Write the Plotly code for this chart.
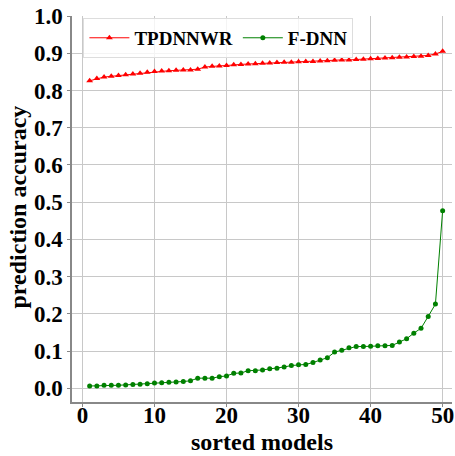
import plotly.graph_objects as go

models = list(range(1, 51))
tpdnnwr = [0.826, 0.832, 0.836, 0.838, 0.840, 0.842, 0.844, 0.846, 0.849, 0.851,
           0.852, 0.853, 0.854, 0.855, 0.855, 0.857, 0.863, 0.865, 0.866, 0.867,
           0.869, 0.870, 0.871, 0.872, 0.873, 0.874, 0.875, 0.876, 0.876, 0.877,
           0.878, 0.878, 0.879, 0.880, 0.881, 0.882, 0.882, 0.883, 0.884, 0.885,
           0.886, 0.887, 0.888, 0.889, 0.890, 0.891, 0.892, 0.894, 0.898, 0.905]
fdnn = [0.006, 0.006, 0.008, 0.008, 0.008, 0.009, 0.010, 0.011, 0.012, 0.014,
        0.015, 0.016, 0.017, 0.018, 0.020, 0.027, 0.027, 0.027, 0.031, 0.033,
        0.040, 0.041, 0.047, 0.047, 0.049, 0.052, 0.054, 0.057, 0.061, 0.063,
        0.064, 0.069, 0.076, 0.082, 0.097, 0.102, 0.109, 0.112, 0.112, 0.113,
        0.114, 0.114, 0.115, 0.124, 0.133, 0.148, 0.161, 0.193, 0.226, 0.477]
xticks = [0, 10, 20, 30, 40, 50]
yticks = [0.0, 0.1, 0.2, 0.3, 0.4, 0.5, 0.6, 0.7, 0.8, 0.9, 1.0]
x_title = "sorted models"
y_title = "prediction accuracy"

tickfont = dict(family="Liberation Serif", size=23, color="black", weight="bold")
titlefont = dict(family="Liberation Serif", size=24, color="black", weight="bold")

fig = go.Figure()
fig.add_trace(go.Scatter(x=models, y=tpdnnwr, mode="lines+markers", name="TPDNNWR",
                         line=dict(color="red", width=1),
                         marker=dict(symbol="triangle-up", size=6, color="red")))
fig.add_trace(go.Scatter(x=models, y=fdnn, mode="lines+markers", name="F-DNN",
                         line=dict(color="green", width=1),
                         marker=dict(symbol="circle", size=5, color="green")))

fig.update_layout(
    width=455, height=456,
    margin=dict(l=72, r=3, t=16, b=54, autoexpand=False),
    plot_bgcolor="white", paper_bgcolor="white",
    font=tickfont,
    showlegend=True,
    legend=dict(orientation="h", x=0.03, y=0.995, xanchor="left", yanchor="top",
                bgcolor="rgba(255,255,255,0.8)", bordercolor="#dddddd", borderwidth=1,
                font=dict(family="Liberation Serif", size=19, color="black", weight="bold"),
                itemwidth=40),
    annotations=[
        dict(text=x_title, xref="paper", yref="paper", x=0.5, y=-0.104,
             xanchor="center", yanchor="middle", showarrow=False, font=titlefont),
        dict(text=y_title, xref="paper", yref="paper", x=-0.142, y=0.504,
             xanchor="center", yanchor="middle", showarrow=False, font=titlefont,
             textangle=-90),
    ],
)
fig.update_xaxes(range=[-1.45, 51.3], tickvals=xticks, tickfont=tickfont,
                 showgrid=True, gridcolor="#c8c8c8", gridwidth=1,
                 showline=True, linecolor="#888888", linewidth=1.5,
                 ticks="outside", ticklen=3, tickcolor="#888888", zeroline=False,
                 ticklabelstandoff=-11, automargin=False)
fig.update_yaxes(range=[-0.037, 1.0], tickvals=yticks, tickformat=".1f", tickfont=tickfont,
                 showgrid=True, gridcolor="#c8c8c8", gridwidth=1,
                 showline=True, linecolor="#888888", linewidth=1.5,
                 ticks="outside", ticklen=3, tickcolor="#888888", zeroline=False,
                 automargin=False)

fig.write_html("out.html", config={"displayModeBar": False},
               post_script="document.body.style.margin='0';document.body.style.padding='0';")
